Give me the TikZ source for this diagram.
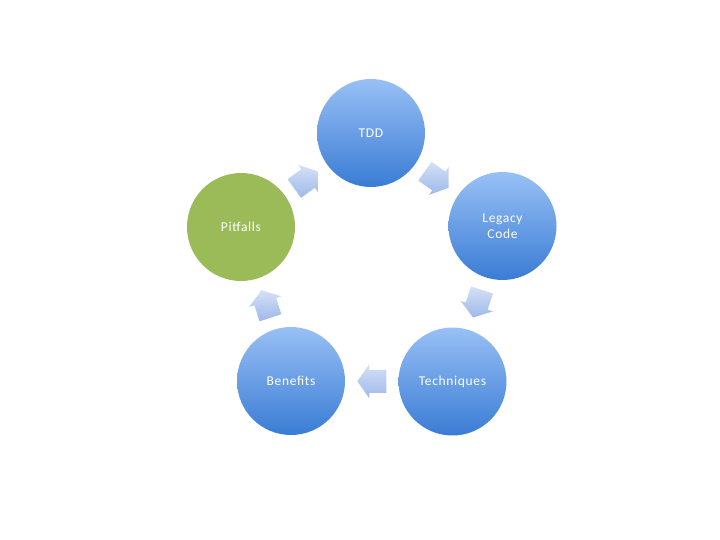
\documentclass[tikz,border=0pt]{standalone}
\usepackage{fontspec}
\setmainfont{Carlito}[LetterSpace=5]
\usetikzlibrary{calc}
\definecolor{bluetop}{RGB}{152,192,246}
\definecolor{bluebot}{RGB}{58,124,212}
\definecolor{pitgreen}{RGB}{155,187,89}
\definecolor{arrtop}{RGB}{212,224,247}
\definecolor{arrbot}{RGB}{158,185,232}
\tikzset{
  basebubble/.style={circle, minimum size=108pt, inner sep=0pt, text=white,
    font=\fontsize{13.5}{16}\selectfont, align=center, draw=none},
  bubble/.style={basebubble, top color=bluetop, bottom color=bluebot},
  greenbubble/.style={basebubble, fill=pitgreen},
  cyclearrow/.pic={
    \shade[top color=arrtop, bottom color=arrbot]
      (-14.5,-11.5) -- (2.5,-11.5) -- (2.5,-17) -- (14.5,0) -- (2.5,17)
      -- (2.5,11.5) -- (-14.5,11.5) -- cycle;
  }
}
\begin{document}
\begin{tikzpicture}[x=1pt,y=-1pt]
\useasboundingbox (0,0) rectangle (720,540);
\node[bubble] (tdd) at (371,133) {TDD};
\node[bubble] (legacy) at (502.5,226) {Legacy\\Code};
\node[bubble] (tech) at (452.5,381.5) {Techniques};
\node[bubble] (ben) at (291,381) {Benefits};
\node[greenbubble] (pit) at (241,227) {Pitfalls};
\path ($(pit)!0.5!(tdd)$) pic[rotate=36] {cyclearrow};
\path ($(tdd)!0.5!(legacy)$) pic[rotate=-35] {cyclearrow};
\path ($(legacy)!0.5!(tech)$) pic[rotate=-108] {cyclearrow};
\path ($(tech)!0.5!(ben)$) pic[rotate=180] {cyclearrow};
\path ($(ben)!0.5!(pit)$) pic[rotate=108] {cyclearrow};
\end{tikzpicture}
\end{document}
